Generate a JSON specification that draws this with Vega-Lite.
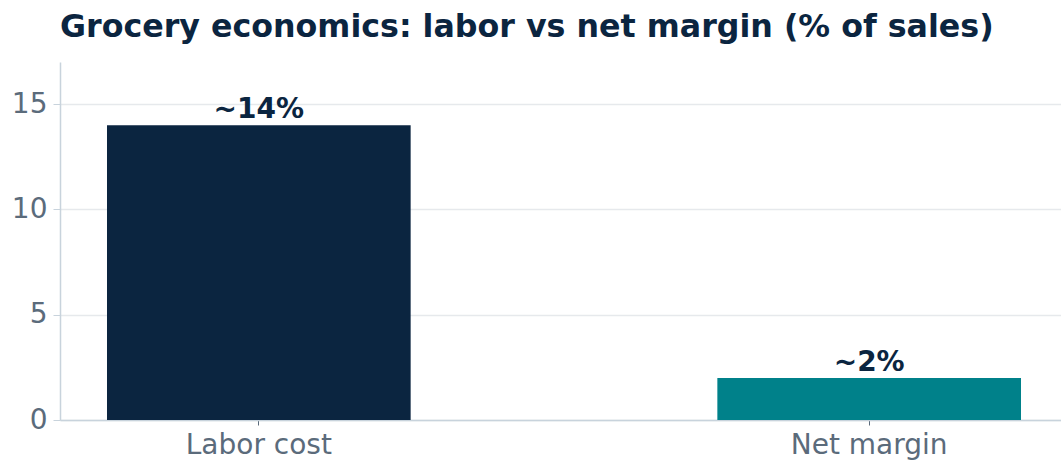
{
  "$schema": "https://vega.github.io/schema/vega-lite/v6.json",
  "autosize": {"type": "none"},
  "width": 1001,
  "height": 358,
  "padding": {"left": 60, "top": 62, "right": 0, "bottom": 44},
  "background": "white",
  "title": {
    "text": "Grocery economics: labor vs net margin (% of sales)",
    "anchor": "start",
    "frame": "group",
    "font": "DejaVu Sans",
    "fontSize": 31.7,
    "fontWeight": "bold",
    "color": "#0b2540",
    "offset": 18
  },
  "data": {
    "values": [
      {"category": "Labor cost", "value": 14, "label": "~14%"},
      {"category": "Net margin", "value": 2, "label": "~2%"}
    ]
  },
  "config": {
    "view": {"stroke": null},
    "font": "DejaVu Sans",
    "axis": {
      "labelFont": "DejaVu Sans",
      "labelFontSize": 28,
      "labelColor": "#5b6b7b",
      "title": null,
      "domainColor": "#c8d3dc",
      "domainWidth": 1.5,
      "tickColor": "#c8d3dc",
      "tickSize": 7
    }
  },
  "encoding": {
    "x": {
      "field": "category",
      "type": "nominal",
      "sort": null,
      "scale": {"range": [0, 1008], "paddingInner": 0.5025, "paddingOuter": 0.077},
      "axis": {"labelAngle": 0, "labelPadding": 6, "tickColor": "#5b6b7b", "tickSize": 5, "grid": false}
    },
    "y": {
      "field": "value",
      "type": "quantitative",
      "scale": {"domain": [0, 17], "nice": false},
      "axis": {"values": [0, 5, 10, 15], "grid": true, "gridColor": "#e6e9ec", "gridWidth": 1.5, "labelPadding": 6}
    }
  },
  "layer": [
    {
      "mark": {"type": "bar"},
      "encoding": {
        "color": {
          "field": "category",
          "type": "nominal",
          "scale": {"domain": ["Labor cost", "Net margin"], "range": ["#0b2540", "#00818a"]},
          "legend": null
        }
      }
    },
    {
      "mark": {"type": "text", "font": "DejaVu Sans", "fontSize": 28, "fontWeight": "bold", "color": "#0b2540", "baseline": "alphabetic", "dy": -7},
      "encoding": {"text": {"field": "label"}}
    }
  ]
}
